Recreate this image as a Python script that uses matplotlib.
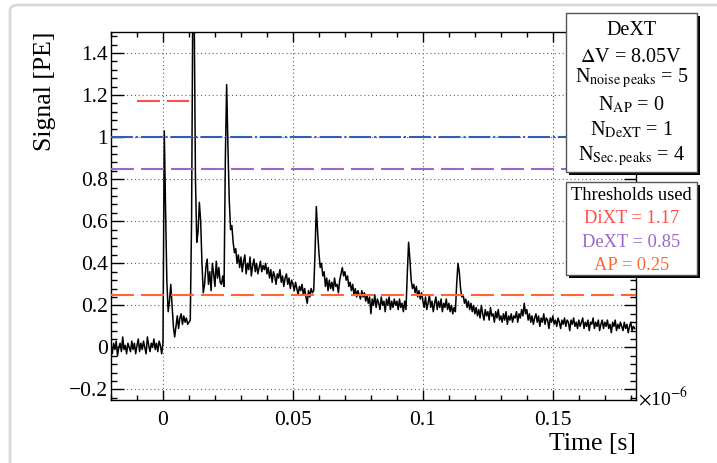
import numpy as np
import matplotlib.pyplot as plt
from matplotlib.patches import Rectangle, FancyBboxPatch
from matplotlib.ticker import MultipleLocator, FuncFormatter

plt.rcParams['font.family'] = ['Liberation Serif', 'DejaVu Serif']
plt.rcParams['mathtext.fontset'] = 'stix'

# waveform, sampled every 0.5 ns starting at -20 ns (values in PE)
t_start = -20.0
t_step = 0.5
signal = [
    0.01, -0.03, 0.02, -0.01, 0.03, -0.04, 0.00, 0.02, -0.02, 0.05, -0.01, 0.01, -0.03, 0.02, 0.00, -0.02, 0.03, -0.01, 0.02, -0.03,
    0.01, 0.04, -0.02, 0.02, -0.01, 0.03, 0.00, -0.03, 0.05, 0.01, -0.02, 0.02, 0.00, 0.04, -0.01, 0.02, -0.02, 0.03, 0.01, -0.03,
    0.02, 1.03, 0.65, 0.31, 0.17, 0.22, 0.30, 0.20, 0.10, 0.05, 0.10, 0.15, 0.09, 0.14, 0.16, 0.11, 0.15, 0.12, 0.14, 0.11,
    0.12, 0.13, 0.60, 1.70, 1.60, 0.80, 0.50, 0.55, 0.69, 0.60, 0.40, 0.26, 0.30, 0.38, 0.42, 0.30, 0.36, 0.27, 0.40, 0.35,
    0.29, 0.41, 0.33, 0.38, 0.31, 0.30, 0.34, 0.29, 0.90, 1.25, 0.95, 0.70, 0.56, 0.58, 0.50, 0.45, 0.47, 0.40, 0.44, 0.38,
    0.43, 0.36, 0.41, 0.44, 0.35, 0.40, 0.37, 0.43, 0.34, 0.39, 0.42, 0.36, 0.40, 0.35, 0.38, 0.41, 0.36, 0.39, 0.37, 0.40,
    0.35, 0.38, 0.33, 0.37, 0.31, 0.36, 0.34, 0.30, 0.35, 0.33, 0.37, 0.31, 0.34, 0.29, 0.33, 0.35, 0.30, 0.33, 0.28, 0.32,
    0.30, 0.27, 0.31, 0.28, 0.25, 0.29, 0.27, 0.30, 0.25, 0.28, 0.24, 0.21, 0.27, 0.24, 0.28, 0.26, 0.27, 0.45, 0.67, 0.55,
    0.45, 0.38, 0.40, 0.34, 0.36, 0.29, 0.33, 0.27, 0.32, 0.28, 0.31, 0.27, 0.33, 0.29, 0.30, 0.26, 0.32, 0.35, 0.38, 0.34,
    0.36, 0.32, 0.34, 0.29, 0.31, 0.27, 0.30, 0.25, 0.28, 0.24, 0.27, 0.25, 0.23, 0.27, 0.24, 0.26, 0.22, 0.25, 0.21, 0.24,
    0.16, 0.23, 0.20, 0.25, 0.19, 0.23, 0.21, 0.18, 0.24, 0.20, 0.22, 0.17, 0.23, 0.20, 0.24, 0.18, 0.22, 0.19, 0.23, 0.20,
    0.22, 0.18, 0.23, 0.19, 0.21, 0.17, 0.22, 0.18, 0.35, 0.50, 0.42, 0.32, 0.28, 0.30, 0.26, 0.29, 0.24, 0.27, 0.23, 0.26,
    0.22, 0.19, 0.24, 0.18, 0.21, 0.25, 0.19, 0.22, 0.17, 0.21, 0.24, 0.18, 0.22, 0.19, 0.23, 0.17, 0.21, 0.19, 0.23, 0.18,
    0.21, 0.17, 0.20, 0.16, 0.19, 0.17, 0.30, 0.40, 0.36, 0.28, 0.24, 0.25, 0.21, 0.23, 0.19, 0.22, 0.18, 0.21, 0.17, 0.20,
    0.16, 0.19, 0.15, 0.18, 0.14, 0.20, 0.16, 0.13, 0.18, 0.15, 0.17, 0.13, 0.19, 0.15, 0.16, 0.12, 0.17, 0.14, 0.18, 0.13,
    0.15, 0.12, 0.16, 0.13, 0.17, 0.11, 0.15, 0.13, 0.16, 0.12, 0.15, 0.14, 0.17, 0.12, 0.16, 0.14, 0.18, 0.15, 0.21, 0.16,
    0.18, 0.13, 0.16, 0.12, 0.15, 0.11, 0.14, 0.16, 0.12, 0.15, 0.10, 0.14, 0.12, 0.16, 0.11, 0.14, 0.13, 0.09, 0.14, 0.12,
    0.15, 0.11, 0.13, 0.10, 0.14, 0.12, 0.09, 0.13, 0.11, 0.14, 0.10, 0.13, 0.12, 0.08, 0.13, 0.11, 0.14, 0.10, 0.12, 0.09,
    0.13, 0.10, 0.12, 0.14, 0.09, 0.12, 0.10, 0.13, 0.08, 0.12, 0.11, 0.14, 0.09, 0.12, 0.10, 0.13, 0.08, 0.11, 0.13, 0.09,
    0.12, 0.10, 0.13, 0.09, 0.11, 0.07, 0.12, 0.10, 0.13, 0.08, 0.11, 0.09, 0.12, 0.10, 0.08, 0.12, 0.09, 0.11, 0.07, 0.10,
    0.12, 0.08, 0.10, 0.09,
]

# thresholds (PE)
one_pe = 1.0
dixt_thr = 1.17
dext_thr = 0.85
ap_thr = 0.25
dixt_span = [-0.01, 0.01]   # x10^-6 s

info_lines = [
    "DeXT",
    r"$\Delta$V = 8.05V",
    r"N$_{\mathrm{noise\ peaks}}$ = 5",
    r"N$_{\mathrm{AP}}$ = 0",
    r"N$_{\mathrm{DeXT}}$ = 1",
    r"N$_{\mathrm{Sec.peaks}}$ = 4",
]
thr_lines = ["Thresholds used", "DiXT = 1.17", "DeXT = 0.85", "AP = 0.25"]

c_red = "#ff4d4d"
c_blue = "#2f5fae"
c_purple = "#9a68c8"
c_orange = "#ff6633"

W, H = 717, 463
t = (t_start + t_step * np.arange(len(signal))) * 1e-3

fig = plt.figure(figsize=(W / 100, H / 100), dpi=100)
ax = fig.add_axes([111 / W, 1 - 400 / H, 525 / W, 368 / H])

ax.plot(t, signal, color="black", lw=1.1, zorder=3)
ax.plot(dixt_span, [dixt_thr, dixt_thr], color=c_red, lw=1.5, dashes=(11, 3.4), zorder=4)
ax.axhline(one_pe, color=c_blue, lw=1.5, dashes=(10.5, 1.4, 1.0, 1.4), zorder=4)
ax.axhline(dext_thr, color=c_purple, lw=1.5, dashes=(11, 3.4), zorder=4)
ax.axhline(ap_thr, color=c_orange, lw=1.5, dashes=(11, 3.4), zorder=4)

ax.set_xlim(-0.02, 0.182)
ax.set_ylim(-0.25, 1.5)
ax.xaxis.set_major_locator(MultipleLocator(0.05))
ax.xaxis.set_minor_locator(MultipleLocator(0.01))
ax.yaxis.set_major_locator(MultipleLocator(0.2))
ax.yaxis.set_minor_locator(MultipleLocator(0.04))
fmt = FuncFormatter(lambda v, p: f"{round(v, 6):g}".replace("-", "\u2212"))
ax.xaxis.set_major_formatter(fmt)
ax.yaxis.set_major_formatter(fmt)

ax.grid(True, which="major", color="#666666", linestyle=(0, (1, 2.5)), lw=0.8)
ax.tick_params(which="both", direction="in", top=True, right=True, width=1.0, labelsize=15.5)
ax.tick_params(axis="y", which="major", length=9, pad=2)
ax.tick_params(axis="y", which="minor", length=4.5)
ax.tick_params(axis="x", which="major", length=7, pad=8)
ax.tick_params(axis="x", which="minor", length=3.5)
for s in ax.spines.values():
    s.set_linewidth(1.0)

ax.set_ylabel("Signal [PE]", fontsize=18.5, loc="top")
ax.yaxis.label.set_va("center")
ax.yaxis.set_label_coords(-0.126, 1.0)
ax.set_xlabel("Time [s]", fontsize=18.5, loc="right")
ax.xaxis.label.set_va("center")
ax.xaxis.set_label_coords(1.0, -0.12)

fig.text(638 / W, 1 - 398 / H, r"$\times$10$^{-6}$", fontsize=14, ha="left", va="center")


def px_rect(x0, y0, x1, y1, **kw):
    return Rectangle((x0 / W, 1 - y1 / H), (x1 - x0) / W, (y1 - y0) / H,
                     transform=fig.transFigure, **kw)


# card frame around the picture
fig.add_artist(FancyBboxPatch((10 / W, -0.1), 1.2, 1.1 - 5 / H,
                              boxstyle="round,pad=0,rounding_size=0.012",
                              transform=fig.transFigure, facecolor="none",
                              edgecolor="#d8d8d8", lw=2, zorder=-1))

# info boxes with shadow
for (x0, y0, x1, y1) in [(566, 13, 697, 172), (566, 182, 697, 275)]:
    fig.add_artist(px_rect(x0 + 3, y0 + 3, x1 + 3, y1 + 3, facecolor="black", edgecolor="none", zorder=5))
    fig.add_artist(px_rect(x0, y0, x1, y1, facecolor="white", edgecolor="#555555", lw=1.0, zorder=6))

xc = 631.5 / W
for txt, yb in zip(info_lines, [35, 62, 82, 110, 135, 160]):
    fig.text(xc, 1 - yb / H, txt, fontsize=14.5, ha="center", va="baseline", zorder=7)
for txt, yb, col in zip(thr_lines, [200, 223, 247, 270], ["black", c_red, c_purple, c_orange]):
    fig.text(xc, 1 - yb / H, txt, fontsize=13.3, ha="center", va="baseline", color=col, zorder=7)

fig.savefig("out.png", dpi=100)
